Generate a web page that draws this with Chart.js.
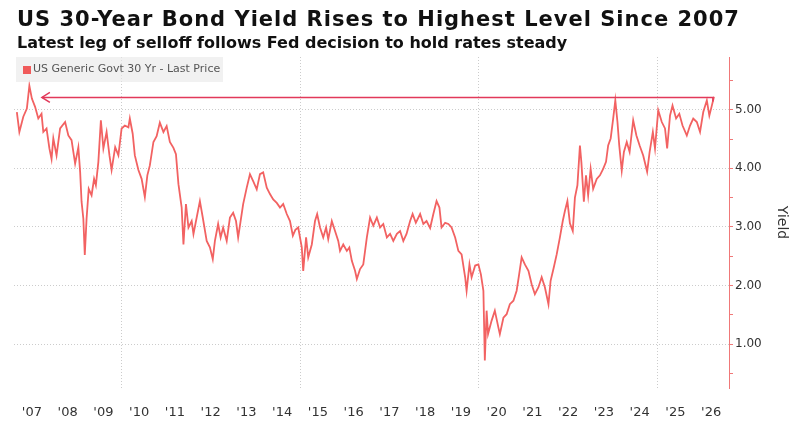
<!DOCTYPE html>
<html>
<head>
<meta charset="utf-8">
<script src="https://cdn.jsdelivr.net/npm/chart.js@4/dist/chart.umd.min.js"></script>
<style>
    body { margin: 0; background: #fff; font-family: "DejaVu Sans", sans-serif; }
    #wrap { position: relative; width: 800px; height: 422px; }
    #yieldChart { position: absolute; left: 0; top: 0; }
    .title { position: absolute; left: 17px; top: 7px; font-size: 21px; line-height: 25px; letter-spacing: 1px; font-weight: bold; color: #111; white-space: nowrap; }
    .subtitle { position: absolute; left: 17px; top: 33px; font-size: 16px; line-height: 19px; font-weight: bold; color: #111; white-space: nowrap; }
    .legend { position: absolute; left: 16px; top: 57px; width: 207px; height: 25px; background: rgba(232, 232, 232, 0.6); }
    .legend span.box { position: absolute; left: 7px; top: 9px; width: 8px; height: 8px; background: #f05a5a; }
    .legend span.txt { position: absolute; left: 17px; top: 5px; font-size: 11px; line-height: 14px; color: #555; white-space: nowrap; }
</style>
</head>
<body>
<div id="wrap">
    <canvas id="yieldChart" width="800" height="422"></canvas>
    <div class="title">US 30-Year Bond Yield Rises to Highest Level Since 2007</div>
    <div class="subtitle">Latest leg of selloff follows Fed decision to hold rates steady</div>
    <div class="legend"><span class="box"></span><span class="txt">US Generic Govt 30 Yr - Last Price</span></div>
</div>
<script>
// dates as decimal years, yields in %
const years = [
    2007.08, 2007.15, 2007.26, 2007.36, 2007.43, 2007.50, 2007.59, 2007.68, 2007.77, 2007.82,
    2007.91, 2007.99, 2008.05, 2008.10, 2008.19, 2008.29, 2008.43, 2008.52, 2008.61, 2008.71,
    2008.80, 2008.85, 2008.89, 2008.94, 2008.98, 2009.03, 2009.09, 2009.17, 2009.24, 2009.29,
    2009.36, 2009.43, 2009.50, 2009.59, 2009.67, 2009.73, 2009.83, 2009.92, 2010.01, 2010.10,
    2010.20, 2010.24, 2010.32, 2010.38, 2010.48, 2010.57, 2010.66, 2010.73, 2010.80, 2010.90,
    2010.99, 2011.08, 2011.18, 2011.27, 2011.36, 2011.46, 2011.53, 2011.60, 2011.69, 2011.74,
    2011.81, 2011.88, 2011.97, 2012.02, 2012.11, 2012.20, 2012.28, 2012.39, 2012.48, 2012.56,
    2012.62, 2012.71, 2012.78, 2012.85, 2012.95, 2013.04, 2013.13, 2013.21, 2013.27, 2013.41,
    2013.51, 2013.60, 2013.69, 2013.79, 2013.88, 2013.97, 2014.07, 2014.16, 2014.25, 2014.35,
    2014.44, 2014.53, 2014.63, 2014.72, 2014.80, 2014.87, 2014.95, 2015.05, 2015.09, 2015.17,
    2015.23, 2015.33, 2015.42, 2015.48, 2015.56, 2015.65, 2015.73, 2015.79, 2015.89, 2015.98,
    2016.07, 2016.12, 2016.21, 2016.31, 2016.38, 2016.45, 2016.54, 2016.59, 2016.68, 2016.77,
    2016.87, 2016.96, 2017.05, 2017.15, 2017.24, 2017.33, 2017.43, 2017.52, 2017.61, 2017.71,
    2017.80, 2017.89, 2017.98, 2018.08, 2018.15, 2018.24, 2018.36, 2018.45, 2018.54, 2018.64,
    2018.73, 2018.82, 2018.90, 2018.96, 2019.06, 2019.15, 2019.24, 2019.34, 2019.43, 2019.52,
    2019.62, 2019.66, 2019.74, 2019.80, 2019.90, 2019.99, 2020.06, 2020.13, 2020.17, 2020.22,
    2020.26, 2020.36, 2020.45, 2020.55, 2020.59, 2020.69, 2020.78, 2020.87, 2020.97, 2021.06,
    2021.13, 2021.20, 2021.29, 2021.39, 2021.48, 2021.57, 2021.67, 2021.76, 2021.85, 2021.95,
    2022.01, 2022.10, 2022.18, 2022.27, 2022.35, 2022.41, 2022.48, 2022.55, 2022.63, 2022.69,
    2022.76, 2022.83, 2022.87, 2022.94, 2023.00, 2023.06, 2023.13, 2023.20, 2023.30, 2023.39,
    2023.48, 2023.56, 2023.62, 2023.69, 2023.76, 2023.82, 2023.88, 2023.93, 2024.00, 2024.06,
    2024.14, 2024.22, 2024.32, 2024.41, 2024.50, 2024.60, 2024.71, 2024.78, 2024.87, 2024.93,
    2025.02, 2025.12, 2025.21, 2025.27, 2025.35, 2025.42, 2025.52, 2025.61, 2025.70, 2025.82,
    2025.91, 2026.00, 2026.10, 2026.19, 2026.28, 2026.38, 2026.45, 2026.52, 2026.58
];
const yields = [
    4.96, 4.62, 4.88, 5.02, 5.41, 5.19, 5.05, 4.85, 4.93, 4.62,
    4.68, 4.34, 4.16, 4.51, 4.22, 4.68, 4.79, 4.56, 4.48, 4.08,
    4.36, 3.94, 3.43, 3.14, 2.52, 3.14, 3.65, 3.54, 3.82, 3.71,
    4.11, 4.82, 4.34, 4.62, 4.22, 3.97, 4.36, 4.22, 4.68, 4.73,
    4.70, 4.85, 4.59, 4.22, 3.97, 3.82, 3.51, 3.88, 4.05, 4.45,
    4.55, 4.78, 4.62, 4.72, 4.45, 4.35, 4.24, 3.73, 3.33, 2.70,
    3.39, 2.99, 3.10, 2.88, 3.16, 3.44, 3.16, 2.76, 2.65, 2.45,
    2.76, 3.05, 2.82, 2.99, 2.76, 3.16, 3.24, 3.10, 2.82, 3.39,
    3.67, 3.90, 3.78, 3.64, 3.90, 3.93, 3.67, 3.56, 3.47, 3.41,
    3.33, 3.39, 3.22, 3.10, 2.85, 2.95, 2.99, 2.65, 2.25, 2.82,
    2.48, 2.70, 3.10, 3.22, 2.99, 2.82, 2.99, 2.79, 3.10, 2.93,
    2.76, 2.59, 2.70, 2.59, 2.65, 2.42, 2.25, 2.11, 2.28, 2.36,
    2.82, 3.16, 3.02, 3.16, 2.99, 3.05, 2.82, 2.88, 2.76, 2.88,
    2.93, 2.76, 2.88, 3.10, 3.22, 3.07, 3.22, 3.05, 3.10, 2.98,
    3.22, 3.44, 3.33, 2.99, 3.07, 3.05, 2.99, 2.82, 2.59, 2.53,
    2.14, 1.91, 2.36, 2.14, 2.34, 2.36, 2.19, 1.91, 0.72, 1.57,
    1.17, 1.40, 1.57, 1.28, 1.17, 1.45, 1.51, 1.68, 1.74, 1.91,
    2.19, 2.48, 2.36, 2.25, 2.02, 1.85, 1.97, 2.14, 1.97, 1.68,
    2.08, 2.31, 2.53, 2.82, 3.10, 3.27, 3.44, 3.06, 2.93, 3.50,
    3.71, 4.39, 4.11, 3.43, 3.88, 3.54, 3.99, 3.65, 3.82, 3.88,
    3.99, 4.11, 4.39, 4.51, 4.85, 5.16, 4.79, 4.39, 3.96, 4.28,
    4.45, 4.28, 4.82, 4.56, 4.39, 4.22, 3.94, 4.28, 4.62, 4.34,
    4.99, 4.79, 4.68, 4.34, 4.90, 5.07, 4.85, 4.93, 4.73, 4.56,
    4.73, 4.85, 4.79, 4.62, 4.96, 5.16, 4.90, 5.07, 5.22
];

const yearLabels = ["'07", "'08", "'09", "'10", "'11", "'12", "'13", "'14", "'15", "'16",
    "'17", "'18", "'19", "'20", "'21", "'22", "'23", "'24", "'25", "'26"];
const labelYears = [2007.5, 2008.5, 2009.5, 2010.5, 2011.5, 2012.5, 2013.5, 2014.5, 2015.5, 2016.5,
    2017.5, 2018.5, 2019.5, 2020.5, 2021.5, 2022.5, 2023.5, 2024.5, 2025.5, 2026.5];
const gridYears = [2010, 2015, 2020, 2025];
const yTicks = [0.5, 1, 1.5, 2, 2.5, 3, 3.5, 4, 4.5, 5, 5.5];

// arrow back to the 2007 level
const arrowLevel = 5.21;
const arrowFrom = 2026.55;
const arrowTo = 2007.78;

const lineColor = '#f26262';
const axisRed = '#f07878';

const arrowPlugin = {
    id: 'arrowPlugin',
    afterDatasetsDraw(chart) {
        const { ctx, scales: { x, y } } = chart;
        const yp = y.getPixelForValue(arrowLevel);
        const x1 = x.getPixelForValue(arrowFrom);
        const x0 = x.getPixelForValue(arrowTo);
        ctx.save();
        ctx.strokeStyle = '#e2395a';
        ctx.lineWidth = 1.5;
        ctx.beginPath();
        ctx.moveTo(x1, yp + 4);
        ctx.lineTo(x1, yp);
        ctx.lineTo(x0, yp);
        ctx.stroke();
        ctx.beginPath();
        ctx.moveTo(x0 + 8, yp - 5);
        ctx.lineTo(x0, yp);
        ctx.lineTo(x0 + 8, yp + 5);
        ctx.stroke();
        ctx.restore();
    }
};

new Chart(document.getElementById('yieldChart'), {
    type: 'line',
    data: {
        datasets: [{
            label: 'US Generic Govt 30 Yr - Last Price',
            data: years.map((t, i) => ({ x: t, y: yields[i] })),
            borderColor: lineColor,
            borderWidth: 1.8,
            pointRadius: 0,
            tension: 0
        }]
    },
    options: {
        responsive: false,
        animation: false,
        layout: { padding: { left: 14, top: 57, right: 0, bottom: 0 } },
        plugins: {
            legend: { display: false },
            tooltip: { enabled: false }
        },
        scales: {
            x: {
                type: 'linear',
                min: 2007,
                max: 2027,
                afterBuildTicks: axis => {
                    axis.ticks = labelYears.concat(gridYears).sort((a, b) => a - b).map(v => ({ value: v }));
                },
                afterFit: axis => { axis.height = 34; },
                border: { display: false, dash: [1, 2] },
                grid: {
                    drawTicks: false,
                    color: ctx => (ctx.tick && gridYears.includes(ctx.tick.value)) ? '#cccccc' : 'rgba(0,0,0,0)',
                    lineWidth: 1
                },
                ticks: {
                    autoSkip: false,
                    maxRotation: 0,
                    padding: 17,
                    color: '#333',
                    font: { family: 'DejaVu Sans', size: 13 },
                    callback: value => {
                        const i = labelYears.indexOf(value);
                        return i >= 0 ? yearLabels[i] : '';
                    }
                }
            },
            y: {
                position: 'right',
                min: 0.25,
                max: 5.9,
                afterBuildTicks: axis => {
                    axis.ticks = yTicks.map(v => ({ value: v }));
                },
                afterFit: axis => { axis.width = 71; },
                border: { display: true, color: axisRed, width: 1, dash: [1, 2] },
                grid: {
                    color: ctx => (ctx.tick && Number.isInteger(ctx.tick.value)) ? '#cccccc' : 'rgba(0,0,0,0)',
                    tickColor: axisRed,
                    tickLength: 4,
                    tickBorderDash: [],
                    lineWidth: 1
                },
                ticks: {
                    padding: 2,
                    color: '#333',
                    font: { family: 'DejaVu Sans', size: 12 },
                    callback: value => Number.isInteger(value) ? value.toFixed(2) : ''
                },
                title: {
                    display: true,
                    text: 'Yield',
                    color: '#333',
                    font: { family: 'DejaVu Sans', size: 14 },
                    padding: { top: 10, bottom: 0 }
                }
            }
        }
    },
    plugins: [arrowPlugin]
});
</script>
</body>
</html>
